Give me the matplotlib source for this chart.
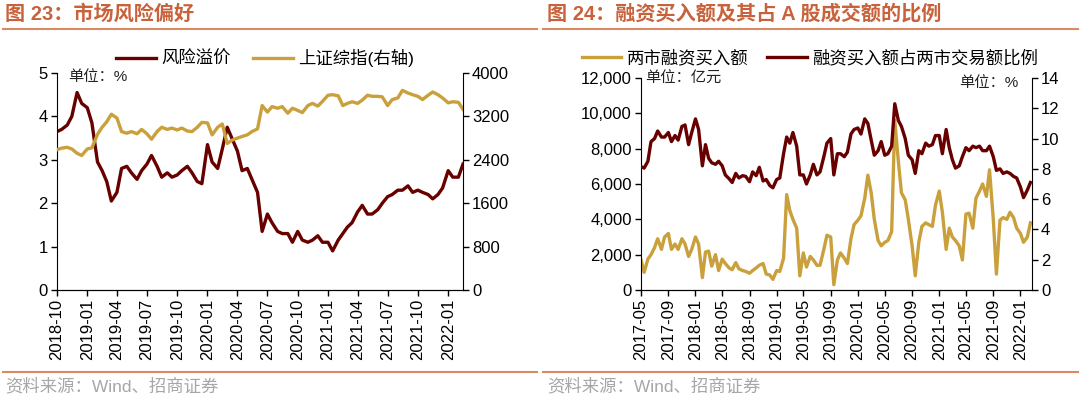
import matplotlib
matplotlib.use("Agg")
import matplotlib.pyplot as plt
import matplotlib.dates as mdates
from matplotlib.lines import Line2D
from matplotlib.ticker import FuncFormatter, MultipleLocator
import pandas as pd

plt.rcParams['font.family'] = ['Liberation Sans', 'Noto Sans CJK SC', 'DejaVu Sans']

# ---- 图23 数据 (半月频) ----
left_start = '2018-10-01'
risk_premium = [
    3.65, 3.7, 3.8, 4.0, 4.55, 4.3, 4.2, 3.85, 2.95, 2.75,
    2.5, 2.05, 2.25, 2.8, 2.85, 2.7, 2.55, 2.75, 2.9, 3.1,
    2.85, 2.6, 2.7, 2.6, 2.65, 2.75, 2.85, 2.7, 2.5, 2.45,
    3.35, 2.95, 2.8, 3.25, 3.75, 3.5, 3.2, 2.75, 2.8, 2.55,
    2.25, 1.35, 1.75, 1.55, 1.35, 1.3, 1.3, 1.1, 1.35, 1.15,
    1.1, 1.15, 1.25, 1.1, 1.1, 0.9, 1.15, 1.3, 1.45, 1.55,
    1.8, 1.95, 1.75, 1.75, 1.85, 2.0, 2.15, 2.2, 2.3, 2.3,
    2.4, 2.25, 2.3, 2.25, 2.2, 2.1, 2.2, 2.35, 2.75, 2.6,
    2.6, 2.9]
sh_index = [
    2585, 2615, 2630, 2600, 2520, 2480, 2600, 2620, 2870, 3000,
    3100, 3240, 3170, 2920, 2890, 2920, 2880, 2960, 2880, 2780,
    2920, 3000, 2960, 2985, 2950, 2985, 2930, 2920, 3000, 3090,
    3080, 2860, 3000, 3060, 2700, 2760, 2800, 2830, 2860, 2920,
    2970, 3400, 3280, 3380, 3350, 3380, 3260, 3350, 3310, 3270,
    3400, 3440, 3390, 3475, 3590, 3600, 3580, 3400, 3440, 3470,
    3440, 3500, 3590, 3570, 3570, 3560, 3400, 3510, 3540, 3680,
    3630, 3600, 3570, 3510, 3590, 3650, 3600, 3540, 3450, 3470,
    3460, 3330]

# ---- 图24 数据 (半月频) ----
right_start = '2017-05-01'
margin_buy = [
    1700, 1000, 1750, 2000, 2400, 2900, 2300, 3000, 3200, 2300,
    2600, 2300, 2900, 2600, 1900, 2300, 3000, 2600, 700, 2150,
    2200, 1350, 2000, 1100, 1750, 1500, 1250, 1150, 1550, 1200,
    1100, 1050, 950, 1100, 1250, 1400, 1500, 900, 850, 600,
    1100, 1050, 1800, 5400, 4500, 4000, 3500, 800, 2100, 1300,
    1900, 1700, 1400, 1400, 2300, 3100, 3000, 300, 1700, 2100,
    1800, 1500, 2900, 3700, 3950, 4200, 5200, 6500, 5500, 4000,
    2800, 2500, 2700, 2800, 3300, 9600, 7300, 5500, 5100, 4000,
    2500, 800, 2700, 3600, 3800, 3700, 3600, 4800, 5600, 4400,
    2300, 3500, 3000, 2800, 2500, 1700, 4300, 4350, 3500, 5200,
    5600, 6000, 5300, 6800, 4000, 900, 3950, 4100, 4000, 4400,
    4100, 3500, 3200, 2700, 3000, 3800]
margin_ratio = [
    8.15, 8.05, 8.5, 9.8, 10.0, 10.5, 10.1, 10.1, 10.4, 9.8,
    10.2, 9.9, 10.8, 10.9, 9.6, 10.4, 11.3, 10.6, 8.2, 9.6,
    8.7, 8.4, 8.3, 8.5, 8.2, 7.6, 7.35, 7.1, 7.7, 7.4,
    7.55, 7.5, 7.15, 7.8, 7.55, 8.1, 7.2, 7.3, 6.9, 6.75,
    7.3, 7.4, 9.0, 10.1, 9.7, 10.4, 9.5, 7.6, 7.6, 7.0,
    7.6, 8.3, 7.6, 7.8, 8.8, 9.7, 10.0, 7.6, 9.0, 9.0,
    8.8, 9.1, 10.3, 10.6, 10.7, 10.3, 11.3, 11.0, 9.9, 8.9,
    9.2, 9.8, 8.9, 9.0, 9.5, 12.3, 11.2, 10.8, 10.0, 8.9,
    8.6, 7.7, 9.2, 9.0, 9.7, 9.5, 9.6, 10.2, 10.2, 9.0,
    10.6, 9.4, 8.6, 8.05, 8.2, 8.8, 9.4, 9.2, 9.5, 9.4,
    9.5, 9.2, 9.2, 9.5, 8.8, 7.9, 8.0, 7.7, 7.8, 7.7,
    7.5, 7.4, 6.8, 6.1, 6.6, 7.1]

left_dates = pd.date_range(left_start, periods=len(risk_premium), freq='SMS')
right_dates = pd.date_range(right_start, periods=len(margin_buy), freq='SMS')

RED = '#680000'
GOLD = '#C9A03C'
TITLE_C = '#C8623A'
LINE_C = '#D98A62'
TICK_FS = 12

fig = plt.figure(figsize=(10.8, 3.97), dpi=100)
W, H = 1080, 397


def fx(px):
    return px / W


def fy(py):
    return 1 - py / H


def style_ax(ax, right_ax):
    for a in (ax, right_ax):
        a.spines['top'].set_visible(False)
        a.tick_params(direction='out', length=4, width=1, labelsize=TICK_FS,
                      colors='black', pad=2.5)
    ax.spines['right'].set_visible(False)
    right_ax.spines['left'].set_visible(False)
    plt.setp(ax.get_xticklabels(), rotation=90)


# ================= 图23 =================
ax1 = fig.add_axes([fx(57), fy(290), fx(463 - 57), (290 - 73) / H])
ax1b = ax1.twinx()
l1, = ax1.plot(left_dates, risk_premium, color=RED, lw=2.4)
l2, = ax1b.plot(left_dates, sh_index, color=GOLD, lw=2.4)
ax1.set_ylim(0, 5)
ax1b.set_ylim(0, 4000)
ax1.yaxis.set_major_locator(MultipleLocator(1))
ax1b.yaxis.set_major_locator(MultipleLocator(800))
ax1.set_xlim(left_dates[0], left_dates[-1])
ax1.xaxis.set_major_locator(mdates.MonthLocator(bymonth=[1, 4, 7, 10]))
ax1.xaxis.set_major_formatter(mdates.DateFormatter('%Y-%m'))
style_ax(ax1, ax1b)
ax1.legend([l1, l2], ['风险溢价', '上证综指(右轴)'], loc='center',
           bbox_to_anchor=(fx(265), fy(58)), bbox_transform=fig.transFigure,
           ncol=2, frameon=False, fontsize=12.5, handlelength=2.3,
           handletextpad=0.3, columnspacing=1.3)

# ================= 图24 =================
ax2 = fig.add_axes([fx(641), fy(290), fx(1032 - 641), (290 - 78) / H])
ax2b = ax2.twinx()
r1, = ax2.plot(right_dates, margin_buy, color=GOLD, lw=2.4)
r2, = ax2b.plot(right_dates, margin_ratio, color=RED, lw=2.4)
ax2.set_ylim(0, 12000)
ax2b.set_ylim(0, 14)
ax2.yaxis.set_major_locator(MultipleLocator(2000))
ax2.yaxis.set_major_formatter(FuncFormatter(lambda v, p: f'{int(v):,}'))
ax2b.yaxis.set_major_locator(MultipleLocator(2))
ax2.set_xlim(right_dates[0], right_dates[-1] + pd.Timedelta(days=7))
ax2.xaxis.set_major_locator(mdates.MonthLocator(bymonth=[1, 5, 9]))
ax2.xaxis.set_major_formatter(mdates.DateFormatter('%Y-%m'))
style_ax(ax2, ax2b)
ax2.legend([r1, r2], ['两市融资买入额', '融资买入额占两市交易额比例'], loc='center',
           bbox_to_anchor=(fx(810), fy(58)), bbox_transform=fig.transFigure,
           ncol=2, frameon=False, fontsize=12.5, handlelength=2.3,
           handletextpad=0.3, columnspacing=1.1)

# ---- 标题、单位、来源 ----
fig.text(fx(5), fy(14), '图 23：市场风险偏好', color=TITLE_C, fontsize=14.5,
         fontweight='bold', va='center')
fig.text(fx(547), fy(14), '图 24：融资买入额及其占 A 股成交额的比例', color=TITLE_C,
         fontsize=14.5, fontweight='bold', va='center')
fig.text(fx(68), fy(77), '单位：%', fontsize=11, color='#222222', va='center')
fig.text(fx(645), fy(79), '单位：亿元', fontsize=11, color='#222222', va='center')
fig.text(fx(1018), fy(83), '单位：%', fontsize=11, color='#222222', va='center', ha='right')

for x0, x1 in ((3, 537), (543, 1078)):
    fig.add_artist(Line2D([fx(x0), fx(x1)], [fy(29), fy(29)], color=LINE_C, lw=1.5))
    fig.add_artist(Line2D([fx(x0), fx(x1)], [fy(372), fy(372)], color=LINE_C, lw=1.5))

fig.text(fx(5), fy(386), '资料来源：Wind、招商证券', fontsize=12.5, color='#A6A6A6', va='center')
fig.text(fx(547), fy(386), '资料来源：Wind、招商证券', fontsize=12.5, color='#A6A6A6', va='center')

fig.savefig('out.png', dpi=100)
